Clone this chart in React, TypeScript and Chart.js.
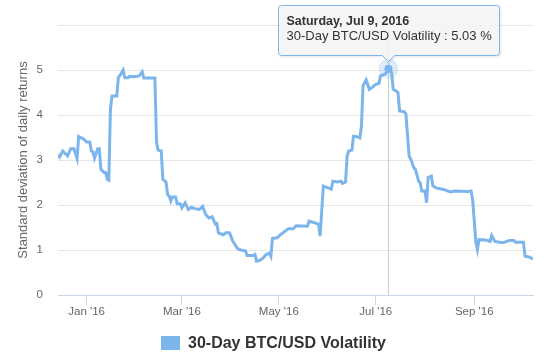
import React, { useEffect, useRef } from "react";
import { Chart, registerables } from "chart.js";

Chart.register(...registerables);

const seriesName = "30-Day BTC/USD Volatility";
const yAxisTitle = "Standard deviation of daily returns";

// day offsets relative to 2016-01-01
const days = [
  -18, -17, -15, -12, -10, -8, -6, -5, -2, 0, 2, 3, 4, 5, 7, 8, 9, 11, 12, 13, 14,
  15, 16, 19, 20, 21, 23, 24, 26, 27, 30, 33, 35, 36, 43, 44, 45, 47, 48, 50, 51,
  52, 53, 54, 56, 57, 59, 60, 62, 64, 66, 68, 71, 73, 75, 77, 79, 81, 82, 83, 86,
  88, 90, 92, 95, 97, 100, 101, 105, 106, 107, 109, 111, 113, 115, 116, 117, 120,
  122, 125, 127, 130, 132, 139, 140, 144, 146, 147, 149, 152, 154, 155, 158, 160,
  161, 163, 164, 165, 167, 168, 170, 172, 173, 174, 176, 178, 180, 182, 184, 185,
  188, 190, 192, 193, 195, 196, 197, 200, 201, 203, 204, 206, 207, 209, 210, 211,
  213, 214, 215, 217, 218, 220, 224, 226, 229, 232, 240, 242, 243, 245, 246, 247,
  251, 254, 255, 257, 262, 266, 269, 270, 275, 276, 278, 281,
];

// 30-day volatility (%)
const values = [
  3.12, 3.07, 3.2, 3.09, 3.25, 3.25, 3.03, 3.52, 3.47, 3.4, 3.4, 3.2, 3.18, 3.04, 3.25, 3.25, 2.79, 2.72, 2.72, 2.57, 2.55,
  4.13, 4.42, 4.42, 4.83, 4.88, 5.0, 4.83, 4.83, 4.86, 4.85, 4.87, 4.96, 4.82, 4.82, 3.4, 3.22, 3.2, 2.57, 2.51, 2.23,
  2.2, 2.09, 2.18, 2.18, 2.03, 2.03, 1.94, 2.05, 1.9, 1.95, 1.92, 1.9, 1.97, 1.79, 1.71, 1.74, 1.58, 1.59, 1.38, 1.34,
  1.39, 1.38, 1.2, 1.03, 1.0, 0.98, 0.88, 0.88, 0.9, 0.75, 0.77, 0.82, 0.9, 0.93, 0.86, 1.26, 1.27,
  1.34, 1.42, 1.47, 1.47, 1.54, 1.53, 1.64, 1.6, 1.57, 1.31, 2.42, 2.38, 2.35, 2.53, 2.51, 2.53,
  2.48, 2.51, 3.09, 3.2, 3.22, 3.53, 3.52, 3.49, 3.75, 4.65, 4.78, 4.57, 4.62, 4.68, 4.7, 4.87,
  4.91, 5.03, 4.94, 4.57, 4.53, 4.5, 4.09, 4.07, 4.02, 3.09, 3.02, 2.83, 2.79, 2.53, 2.49, 2.31,
  2.31, 2.05, 2.61, 2.64, 2.42, 2.38, 2.35, 2.33, 2.29, 2.31, 2.3, 2.31, 2.12, 1.19, 1.01, 1.23,
  1.22, 1.19, 1.32, 1.19, 1.16, 1.21, 1.21, 1.17, 1.17, 0.86, 0.85, 0.8,
];

const tickDays = [0, 60, 121, 182, 244];
const tickLabels = ["Jan '16", "Mar '16", "May '16", "Jul '16", "Sep '16"];
const yTicks = [0, 1, 2, 3, 4, 5, 6];
const yLabels = ["0", "1", "2", "3", "4", "5", ""];

const hoverDay = 190;
const hoverHeader = "Saturday, Jul 9, 2016";

const LINE = "#7cb5ec";
const FONT = "'Liberation Sans', Arial, sans-serif";

const overlay = {
  id: "overlay",
  beforeDatasetsDraw(chart: any) {
    const { ctx, chartArea, scales } = chart;
    const px = Math.round(scales.x.getPixelForValue(hoverDay)) + 0.5;
    ctx.save();
    ctx.strokeStyle = "#cccccc";
    ctx.lineWidth = 1;
    ctx.beginPath();
    ctx.moveTo(px, chartArea.top);
    ctx.lineTo(px, chartArea.bottom);
    ctx.stroke();
    ctx.restore();
  },
  afterDatasetsDraw(chart: any) {
    const { ctx, scales } = chart;
    const i = days.indexOf(hoverDay);
    const v = values[i];
    const pxr = scales.x.getPixelForValue(hoverDay);
    const px = Math.round(pxr) + 0.5;
    const py = scales.y.getPixelForValue(v);
    ctx.save();
    // halo + marker
    ctx.fillStyle = "rgba(124,181,236,0.25)";
    ctx.beginPath();
    ctx.arc(pxr, py, 10, 0, Math.PI * 2);
    ctx.fill();
    ctx.fillStyle = LINE;
    ctx.beginPath();
    ctx.arc(pxr, py, 4, 0, Math.PI * 2);
    ctx.fill();

    // tooltip
    const line2 = `${seriesName} : ${v.toFixed(2)} %`;
    ctx.font = `bold 12.5px ${FONT}`;
    const w1 = ctx.measureText(hoverHeader).width;
    ctx.font = `13px ${FONT}`;
    const w2 = ctx.measureText(line2).width;
    const pad = 8;
    const w = Math.max(w1, w2) + pad * 2;
    const l = Math.round(px - w / 2) + 0.5;
    const r = l + Math.round(w);
    const t = 5.5;
    const b = 55.5;
    const tip = py - 7;
    const rad = 3;
    ctx.beginPath();
    ctx.moveTo(l + rad, t);
    ctx.lineTo(r - rad, t);
    ctx.arcTo(r, t, r, t + rad, rad);
    ctx.lineTo(r, b - rad);
    ctx.arcTo(r, b, r - rad, b, rad);
    ctx.lineTo(px + 6, b);
    ctx.lineTo(px, tip);
    ctx.lineTo(px - 6, b);
    ctx.lineTo(l + rad, b);
    ctx.arcTo(l, b, l, b - rad, rad);
    ctx.lineTo(l, t + rad);
    ctx.arcTo(l, t, l + rad, t, rad);
    ctx.closePath();
    ctx.save();
    ctx.shadowColor = "rgba(0,0,0,0.15)";
    ctx.shadowOffsetX = 1;
    ctx.shadowOffsetY = 1;
    ctx.shadowBlur = 3;
    ctx.fillStyle = "rgba(247,247,247,0.9)";
    ctx.fill();
    ctx.restore();
    ctx.strokeStyle = LINE;
    ctx.lineWidth = 1;
    ctx.stroke();

    ctx.fillStyle = "#333333";
    ctx.textBaseline = "alphabetic";
    ctx.textAlign = "left";
    ctx.font = `bold 12.5px ${FONT}`;
    ctx.fillText(hoverHeader, l + pad, 25);
    ctx.font = `13px ${FONT}`;
    ctx.fillText(line2, l + pad, 39.5);
    ctx.restore();
  },
  afterDraw(chart: any) {
    const { ctx } = chart;
    ctx.save();
    ctx.font = `bold 16px ${FONT}`;
    const tw = ctx.measureText(seriesName).width;
    const symW = 19;
    const gap = 8;
    const total = symW + gap + tw;
    const x0 = Math.round(273 - total / 2);
    ctx.fillStyle = LINE;
    ctx.fillRect(x0, 336, symW, 14);
    ctx.fillStyle = "#333333";
    ctx.textBaseline = "alphabetic";
    ctx.fillText(seriesName, x0 + symW + gap, 348);
    ctx.restore();
  },
};

export default function App() {
  const ref = useRef<HTMLCanvasElement | null>(null);
  useEffect(() => {
    if (!ref.current) return;
    const chart = new Chart(ref.current, {
      type: "line",
      data: {
        datasets: [
          {
            label: seriesName,
            data: days.map((d, i) => ({ x: d, y: values[i] })),
            borderColor: LINE,
            backgroundColor: LINE,
            borderWidth: 3,
            pointRadius: 0,
            tension: 0,
            fill: false,
          },
        ],
      },
      options: {
        responsive: false,
        animation: false,
        events: [],
        layout: { padding: { left: 0, right: 22, top: 25, bottom: 0 } },
        plugins: {
          legend: { display: false },
          tooltip: { enabled: false },
        },
        scales: {
          x: {
            type: "linear",
            min: days[0],
            max: days[days.length - 1],
            afterBuildTicks: (s: any) => {
              s.ticks = tickDays.map((v) => ({ value: v }));
            },
            afterFit: (s: any) => {
              s.height = 65;
            },
            border: { display: true, color: "#ccd6eb", width: 1 },
            grid: {
              drawOnChartArea: false,
              drawTicks: true,
              tickLength: 10,
              color: "#ccd6eb",
              lineWidth: 1,
            },
            ticks: {
              autoSkip: false,
              maxRotation: 0,
              padding: 0,
              color: "#666666",
              font: { family: FONT, size: 11.5 },
              callback: (_v: any, i: number) => tickLabels[i],
            },
          },
          y: {
            type: "linear",
            min: 0,
            max: 6,
            afterBuildTicks: (s: any) => {
              s.ticks = yTicks.map((v) => ({ value: v }));
            },
            afterFit: (s: any) => {
              s.width = 58;
            },
            border: { display: false },
            grid: {
              drawTicks: false,
              color: (c: any) => (c.tick && c.tick.value === 0 ? "rgba(0,0,0,0)" : "#e6e6e6"),
              lineWidth: 1,
            },
            ticks: {
              padding: 15,
              color: "#666666",
              font: { family: FONT, size: 11.5 },
              callback: (_v: any, i: number) => yLabels[i],
            },
            title: {
              display: true,
              text: yAxisTitle,
              color: "#666666",
              font: { family: FONT, size: 13, weight: "normal" },
              padding: { top: 16, bottom: 0 },
            },
          },
        },
      },
      plugins: [overlay],
    });
    return () => chart.destroy();
  }, []);
  return (
    <div style={{ position: "absolute", left: 0, top: 0, width: 555, height: 360 }}>
      <canvas ref={ref} width={555} height={360} />
    </div>
  );
}
